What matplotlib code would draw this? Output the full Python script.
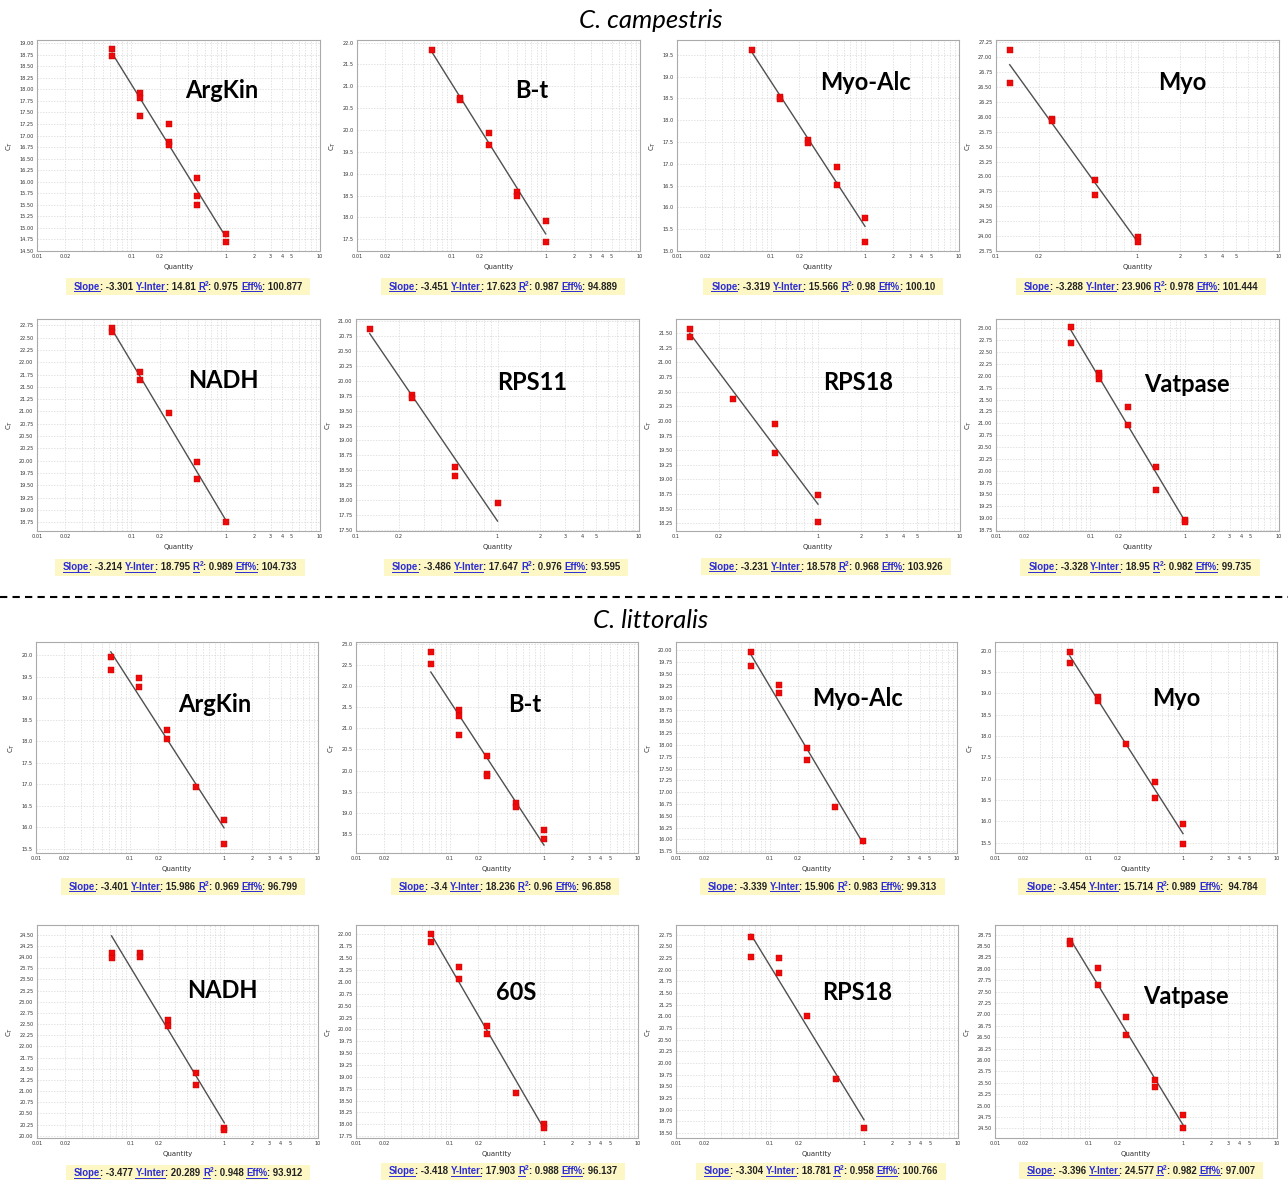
import numpy as np
import matplotlib
matplotlib.use("Agg")
import matplotlib.pyplot as plt
from matplotlib.ticker import MultipleLocator, FormatStrFormatter
from matplotlib.lines import Line2D
from matplotlib.patches import Rectangle
from matplotlib.transforms import IdentityTransform

W, H = 1288, 1180

# ======================================
# DATA - C. campestris
# ======================================
cc_genes = ["ArgKin", "B-t", "Myo-Alc", "Myo", "NADH", "RPS11", "RPS18", "Vatpase"]
cc_slope = ["-3.301", "-3.451", "-3.319", "-3.288", "-3.214", "-3.486", "-3.231", "-3.328"]
cc_yinter = ["14.81", "17.623", "15.566", "23.906", "18.795", "17.647", "18.578", "18.95"]
cc_r2 = ["0.975", "0.987", "0.98", "0.978", "0.989", "0.976", "0.968", "0.982"]
cc_eff = ["100.877", "94.889", "100.10", "101.444", "104.733", "93.595", "103.926", "99.735"]

cc_argkin_q = [0.0625, 0.0625, 0.125, 0.125, 0.125, 0.25, 0.25, 0.25, 0.5, 0.5, 0.5, 1, 1]
cc_argkin_ct = [18.87, 18.73, 17.93, 17.82, 17.43, 17.26, 16.86, 16.80, 16.09, 15.70, 15.50, 14.87, 14.70]
cc_bt_q = [0.0625, 0.125, 0.125, 0.25, 0.25, 0.5, 0.5, 1, 1]
cc_bt_ct = [21.83, 20.74, 20.68, 19.94, 19.65, 18.58, 18.49, 17.92, 17.43]
cc_myoalc_q = [0.0625, 0.125, 0.125, 0.25, 0.25, 0.5, 0.5, 1, 1]
cc_myoalc_ct = [19.60, 18.53, 18.49, 17.54, 17.48, 16.93, 16.51, 15.76, 15.21]
cc_myo_q = [0.125, 0.125, 0.25, 0.25, 0.5, 0.5, 1, 1]
cc_myo_ct = [27.13, 26.57, 25.97, 25.93, 24.94, 24.69, 23.98, 23.90]
cc_nadh_q = [0.0625, 0.0625, 0.125, 0.125, 0.25, 0.5, 0.5, 1]
cc_nadh_ct = [22.70, 22.61, 21.80, 21.65, 20.96, 19.98, 19.62, 18.75]
cc_rps11_q = [0.125, 0.25, 0.25, 0.5, 0.5, 1]
cc_rps11_ct = [20.87, 19.77, 19.71, 18.55, 18.41, 17.95]
cc_rps18_q = [0.125, 0.125, 0.25, 0.5, 0.5, 1, 1]
cc_rps18_ct = [21.57, 21.44, 20.37, 19.94, 19.46, 18.73, 18.28]
cc_vatpase_q = [0.0625, 0.0625, 0.125, 0.125, 0.125, 0.25, 0.25, 0.5, 0.5, 1, 1]
cc_vatpase_ct = [23.04, 22.70, 22.06, 22.00, 21.93, 21.34, 20.96, 20.08, 19.60, 18.96, 18.91]

# ======================================
# DATA - C. littoralis
# ======================================
cl_genes = ["ArgKin", "B-t", "Myo-Alc", "Myo", "NADH", "60S", "RPS18", "Vatpase"]
cl_slope = ["-3.401", "-3.4", "-3.339", "-3.454", "-3.477", "-3.418", "-3.304", "-3.396"]
cl_yinter = ["15.986", "18.236", "15.906", "15.714", "20.289", "17.903", "18.781", "24.577"]
cl_r2 = ["0.969", "0.96", "0.983", "0.989", "0.948", "0.988", "0.958", "0.982"]
cl_eff = ["96.799", "96.858", "99.313", " 94.784", "93.912", "96.137", "100.766", "97.007"]

cl_argkin_q = [0.0625, 0.0625, 0.125, 0.125, 0.25, 0.25, 0.5, 1, 1]
cl_argkin_ct = [19.95, 19.67, 19.48, 19.27, 18.27, 18.05, 16.94, 16.16, 15.61]
cl_bt_q = [0.0625, 0.0625, 0.125, 0.125, 0.125, 0.25, 0.25, 0.25, 0.5, 0.5, 1, 1]
cl_bt_ct = [22.80, 22.52, 21.44, 21.29, 20.85, 20.34, 19.93, 19.86, 19.24, 19.13, 18.60, 18.38]
cl_myoalc_q = [0.0625, 0.0625, 0.125, 0.125, 0.25, 0.25, 0.5, 1]
cl_myoalc_ct = [19.96, 19.67, 19.26, 19.10, 17.93, 17.67, 16.69, 15.97]
cl_myo_q = [0.0625, 0.0625, 0.125, 0.125, 0.25, 0.5, 0.5, 1, 1]
cl_myo_ct = [19.96, 19.71, 18.92, 18.83, 17.82, 16.93, 16.54, 15.94, 15.47]
cl_nadh_q = [0.0625, 0.0625, 0.125, 0.125, 0.25, 0.25, 0.5, 0.5, 1, 1]
cl_nadh_ct = [24.10, 23.98, 24.10, 24.00, 22.60, 22.46, 21.40, 21.13, 20.18, 20.13]
cl_60s_q = [0.0625, 0.0625, 0.125, 0.125, 0.25, 0.25, 0.5, 1, 1]
cl_60s_ct = [22.00, 21.85, 21.32, 21.06, 20.08, 19.91, 18.66, 18.00, 17.93]
cl_rps18_q = [0.0625, 0.0625, 0.125, 0.125, 0.25, 0.5, 1]
cl_rps18_ct = [22.71, 22.28, 22.25, 21.94, 21.01, 19.65, 18.61]
cl_vatpase_q = [0.0625, 0.0625, 0.125, 0.125, 0.25, 0.25, 0.5, 0.5, 1, 1]
cl_vatpase_ct = [28.62, 28.55, 28.02, 27.64, 26.95, 26.55, 25.57, 25.41, 24.79, 24.50]

cc_points = [(cc_argkin_q, cc_argkin_ct), (cc_bt_q, cc_bt_ct), (cc_myoalc_q, cc_myoalc_ct),
             (cc_myo_q, cc_myo_ct), (cc_nadh_q, cc_nadh_ct), (cc_rps11_q, cc_rps11_ct),
             (cc_rps18_q, cc_rps18_ct), (cc_vatpase_q, cc_vatpase_ct)]
cl_points = [(cl_argkin_q, cl_argkin_ct), (cl_bt_q, cl_bt_ct), (cl_myoalc_q, cl_myoalc_ct),
             (cl_myo_q, cl_myo_ct), (cl_nadh_q, cl_nadh_ct), (cl_60s_q, cl_60s_ct),
             (cl_rps18_q, cl_rps18_ct), (cl_vatpase_q, cl_vatpase_ct)]

# ======================================
# LAYOUT (pixels, top-left origin)
# ======================================
row_tb = [(40, 251), (319, 531), (642, 853), (925, 1138)]
col_lr = [[(37, 320), (357, 640), (677, 959), (996, 1279)],
          [(37, 320), (356, 639), (676, 960), (996, 1279)],
          [(36, 318), (356, 638), (676, 957), (995, 1277)],
          [(37, 318), (356, 638), (676, 958), (995, 1277)]]
ylims = [(14.50, 19.07), (17.23, 22.06), (15.0, 19.84), (23.75, 27.29),
         (18.57, 22.88), (17.48, 21.04), (18.12, 21.74), (18.73, 23.2),
         (15.40, 20.31), (18.05, 23.04), (15.71, 20.18), (15.26, 20.20),
         (19.95, 24.72), (17.71, 22.2), (18.39, 22.96), (24.29, 28.96)]
ysteps = [0.25, 0.5, 0.5, 0.25, 0.25, 0.25, 0.25, 0.25,
          0.5, 0.5, 0.25, 0.5, 0.25, 0.25, 0.25, 0.25]
xmins = [0.01, 0.01, 0.01, 0.1, 0.01, 0.1, 0.1, 0.01,
         0.01, 0.01, 0.01, 0.01, 0.01, 0.01, 0.01, 0.01]
label_xy = [(222, 91), (532, 90), (865, 83), (1182, 83),
            (223, 380), (532, 383), (858, 382), (1187, 385),
            (215, 705), (525, 705), (858, 698), (1176, 698),
            (222, 991), (516, 993), (857, 993), (1186, 996)]
cap_xy = [(188, 286), (503, 286), (823, 286), (1141, 286),
          (180, 567), (506, 567), (826, 566), (1140, 567),
          (183, 886), (505, 886), (822, 886), (1142, 886),
          (188, 1173), (503, 1171), (821, 1171), (1141, 1170)]

fig = plt.figure(figsize=(W / 100, H / 100), dpi=100)
renderer = fig.canvas.get_renderer()

tick_vals = [m * 10.0 ** e for e in (-2, -1, 0) for m in range(1, 10)] + [10.0]
shown = {0.01: "0.01", 0.02: "0.02", 0.1: "0.1", 0.2: "0.2", 1.0: "1",
         2.0: "2", 3.0: "3", 4.0: "4", 5.0: "5", 10.0: "10"}

BLUE = "#2b2bd6"
DARK = "#222222"


def caption(cx, cy, slope, yint, r2, eff):
    parts = [("Slope", BLUE, True, False), (": " + slope + " ", DARK, False, False),
             ("Y-Inter", BLUE, True, False), (": " + yint + " ", DARK, False, False),
             ("R", BLUE, True, False), ("2", BLUE, False, True),
             (": " + r2 + " ", DARK, False, False),
             ("Eff%", BLUE, True, False), (": " + eff, DARK, False, False)]
    base = H - cy - 3.5
    arts = []
    for s, c, ul, sup in parts:
        t = fig.text(0, 0, s, transform=IdentityTransform(), color=c,
                     fontsize=4.8 if sup else 6.9, fontweight="bold",
                     family="Liberation Sans", va="baseline", ha="left", zorder=5)
        arts.append((t, ul, sup, c))
    widths = [a[0].get_window_extent(renderer).width for a in arts]
    total = sum(widths)
    x = cx - total / 2
    fig.patches.append(Rectangle((x - 8, H - cy - 8.5), total + 16, 17,
                                 transform=IdentityTransform(), facecolor="#fcf7c5",
                                 edgecolor="none", zorder=1))
    for (t, ul, sup, c), w in zip(arts, widths):
        t.set_position((x, base + 4 if sup else base))
        if ul:
            fig.lines.append(Line2D([x, x + w], [base - 1.5, base - 1.5], color=c, lw=0.7,
                                    transform=IdentityTransform(), zorder=5))
        x += w


def draw_panel(i, q, ct, gene, slope, yint, r2, eff):
    r, c = divmod(i, 4)
    t, b = row_tb[r]
    l, rr = col_lr[r][c]
    ax = fig.add_axes([l / W, 1 - b / H, (rr - l) / W, (b - t) / H])
    ax.set_xscale("log")
    xmin = xmins[i]
    ax.set_xlim(xmin, 10)
    ax.set_ylim(*ylims[i])

    qs = np.array([min(q), max(q)])
    ax.plot(qs, float(slope) * np.log10(qs) + float(yint), color="#505050", lw=1, zorder=2)
    ax.plot(q, ct, "s", color="#ee0a0a", ms=4.3, mec="#c80000", mew=0.3, zorder=3)

    xt = [v for v in tick_vals if v >= xmin * 0.999]
    ax.set_xticks(xt)
    ax.set_xticklabels([next((s for k, s in shown.items() if np.isclose(k, v)), "") for v in xt])
    ax.xaxis.set_minor_locator(plt.NullLocator())
    ax.yaxis.set_major_locator(MultipleLocator(ysteps[i]))
    ax.yaxis.set_major_formatter(FormatStrFormatter("%.2f" if ysteps[i] == 0.25 else "%.1f"))
    ax.tick_params(length=0, labelsize=3.6, pad=2.5, labelcolor="#333333")
    ax.grid(True, color="#d6d6d6", ls=(0, (2, 2)), lw=0.5)
    for sp in ax.spines.values():
        sp.set_color("#aaaaaa")
        sp.set_linewidth(0.8)
    ax.set_xlabel("Quantity", fontsize=5, labelpad=3, color="#333333")
    ax.set_ylabel("C$_T$", fontsize=5, labelpad=3, color="#333333")

    gx, gy = label_xy[i]
    fig.text(gx / W, 1 - gy / H, gene, ha="center", va="center", fontsize=17,
             fontweight="bold", family="Lato", color="black")
    cx, cy = cap_xy[i]
    caption(cx, cy, slope, yint, r2, eff)


for k in range(8):
    draw_panel(k, cc_points[k][0], cc_points[k][1], cc_genes[k],
               cc_slope[k], cc_yinter[k], cc_r2[k], cc_eff[k])
for k in range(8):
    draw_panel(8 + k, cl_points[k][0], cl_points[k][1], cl_genes[k],
               cl_slope[k], cl_yinter[k], cl_r2[k], cl_eff[k])

# ======================================
# TITLES AND SEPARATOR
# ======================================
fig.text(651 / W, 1 - 20 / H, "C. campestris", ha="center", va="center",
         fontsize=18.5, style="italic", family="Lato")
fig.text(651 / W, 1 - 621 / H, "C. littoralis", ha="center", va="center",
         fontsize=18.5, style="italic", family="Lato")
fig.lines.append(Line2D([0, 1], [1 - 597 / H] * 2, transform=fig.transFigure,
                        color="black", lw=1.5, ls=(0, (3.5, 2.5))))

fig.savefig("out.png", dpi=100)
